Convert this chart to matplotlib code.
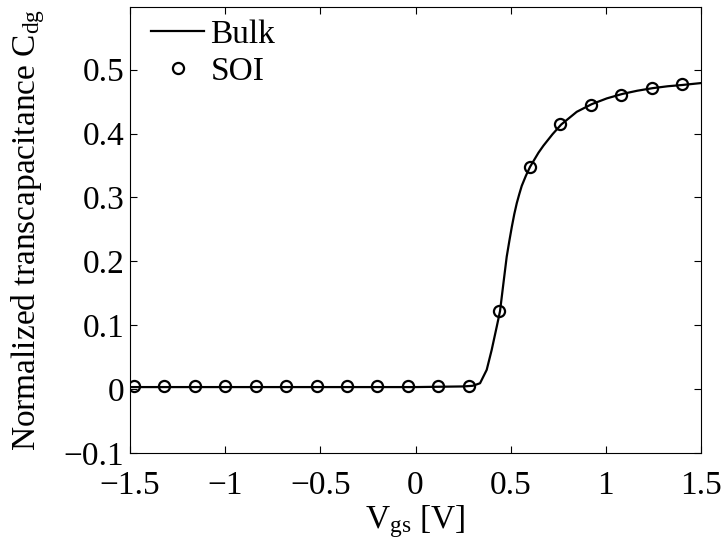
import matplotlib
matplotlib.use("Agg")
import matplotlib.pyplot as plt

# Bulk curve
bulk_v = [-1.5, -1.0, -0.5, 0.0, 0.25, 0.30, 0.339, 0.374, 0.400, 0.427, 0.444,
          0.462, 0.479, 0.493, 0.506, 0.519, 0.532, 0.545, 0.558, 0.580, 0.602,
          0.624, 0.646, 0.672, 0.720, 0.765, 0.847, 0.926, 1.005, 1.087, 1.165,
          1.245, 1.325, 1.402, 1.5]
bulk_c = [0.003, 0.003, 0.003, 0.003, 0.004, 0.005, 0.009, 0.030, 0.061, 0.098, 0.122,
          0.166, 0.207, 0.232, 0.254, 0.274, 0.291, 0.305, 0.318, 0.334, 0.348,
          0.359, 0.370, 0.381, 0.399, 0.414, 0.434, 0.446, 0.455, 0.462, 0.467,
          0.471, 0.474, 0.476, 0.479]

# SOI markers
soi_v = [-1.48, -1.32, -1.16, -1.0, -0.84, -0.68, -0.52, -0.36, -0.2, -0.04,
         0.12, 0.28, 0.44, 0.6, 0.76, 0.92, 1.08, 1.24, 1.40]
soi_c = [0.004, 0.004, 0.004, 0.004, 0.004, 0.004, 0.004, 0.004, 0.004, 0.004,
         0.004, 0.005, 0.122, 0.348, 0.415, 0.445, 0.461, 0.471, 0.477]

plt.rcParams["font.family"] = ["Liberation Serif", "DejaVu Serif"]
plt.rcParams["mathtext.fontset"] = "custom"
plt.rcParams["mathtext.rm"] = "Liberation Serif"
plt.rcParams["mathtext.it"] = "Liberation Serif:italic"
plt.rcParams["font.size"] = 24

fig = plt.figure(figsize=(7.22, 5.43), dpi=100)
ax = fig.add_axes([0.180, 0.166, 0.791, 0.821])

ax.plot(bulk_v, bulk_c, color="black", linewidth=1.6, label="Bulk")
ax.plot(soi_v, soi_c, linestyle="none", marker="o", markersize=8,
        markerfacecolor="none", markeredgecolor="black", markeredgewidth=1.6,
        label="SOI")

ax.set_xlim(-1.5, 1.5)
ax.set_ylim(-0.1, 0.598)
ax.set_xticks([-1.5, -1, -0.5, 0, 0.5, 1, 1.5])
ax.set_xticklabels(["\u22121.5", "\u22121", "\u22120.5", "0", "0.5", "1", "1.5"])
ax.set_yticks([-0.1, 0, 0.1, 0.2, 0.3, 0.4, 0.5])
ax.set_yticklabels(["\u22120.1", "0", "0.1", "0.2", "0.3", "0.4", "0.5"])
ax.tick_params(direction="in", length=5, width=0.8, top=True, right=True)
ax.tick_params(axis="y", pad=4)
ax.tick_params(axis="x", pad=13)

ax.set_xlabel(r"V$_{\rm gs}$ [V]", labelpad=1)
ax.set_ylabel(r"Normalized transcapacitance C$_{\rm dg}$", labelpad=12)

ax.legend(loc="upper left", bbox_to_anchor=(0.037, 0.973), frameon=False,
          handlelength=1.6, handletextpad=0.18, borderaxespad=0, borderpad=0,
          labelspacing=0.2)

fig.savefig("out.png", dpi=100)
